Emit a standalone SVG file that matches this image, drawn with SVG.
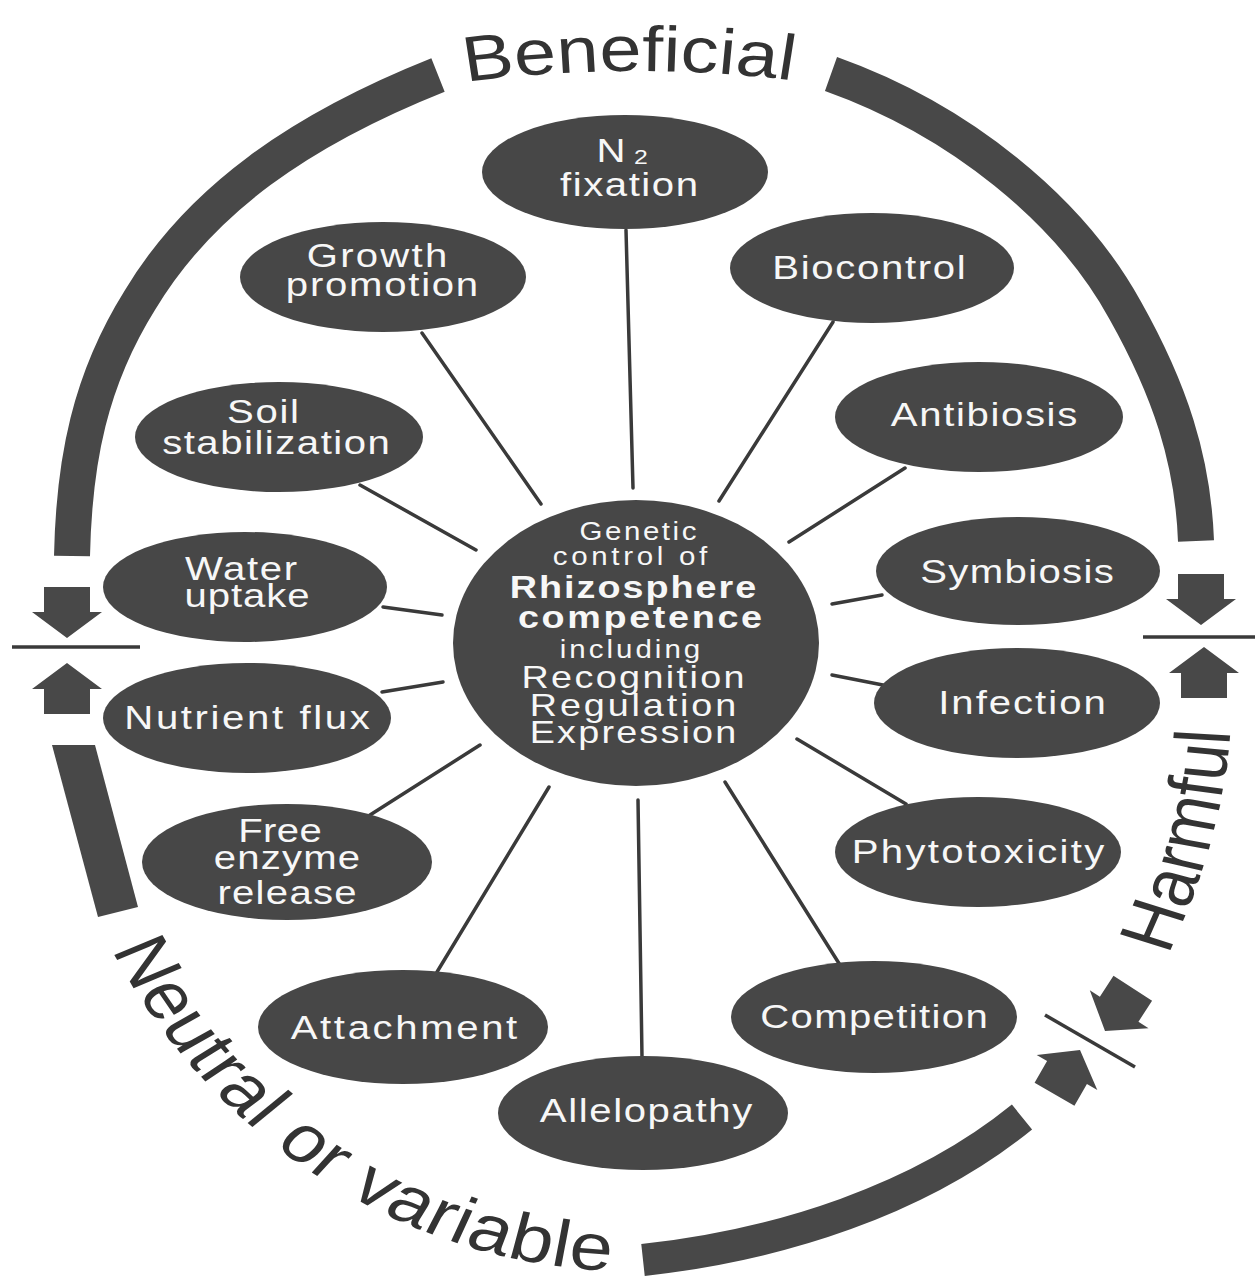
<svg xmlns="http://www.w3.org/2000/svg" width="1255" height="1281" viewBox="0 0 1255 1281">
<style>
.node{fill:#474747}
.lbl{font-family:"Liberation Sans",Arial,Helvetica,sans-serif;font-size:34px;fill:#f7f7f7;text-anchor:middle}
.sm{font-size:25px}
.md{font-size:32px}
.bd{font-size:32px;font-weight:bold}
.conn line{stroke:#3a3a3a;stroke-width:3.5;stroke-linecap:round}
.band{fill:none;stroke:#484848;stroke-width:36}
.sep{stroke:#3a3a3a;stroke-width:3.5}
.arrow{fill:#484848}
.big{font-family:"Liberation Sans",Arial,Helvetica,sans-serif;font-size:64px;fill:#333333}
.nv{font-size:66px;letter-spacing:1px}
</style>
<defs>
<path id="arr" d="M0 0 L-35 -26 L-23 -26 L-23 -51 L23 -51 L23 -26 L35 -26 Z"/>
</defs>
<rect width="1255" height="1281" fill="#ffffff"/>

<g id="frame">
<path class="band" d="M 72 556 C 74 460 90 380 140 300 C 200 200 300 130 438 75"/>
<path class="band" d="M 831 74 C 960 120 1070 210 1125 310 C 1170 390 1193 460 1196 541"/>
<path class="band" style="stroke-width:32" d="M 643 1260 C 780 1245 920 1200 1022 1117"/>
<polygon fill="#484848" points="52,745 95,745 138,907 98,917"/>
<line class="sep" x1="12" y1="647" x2="140" y2="647"/>
<line class="sep" x1="1143" y1="637" x2="1255" y2="637"/>
<line class="sep" x1="1045" y1="1015" x2="1135" y2="1067"/>
<use href="#arr" class="arrow" transform="translate(67 638)"/>
<use href="#arr" class="arrow" transform="translate(67 663) rotate(180)"/>
<use href="#arr" class="arrow" transform="translate(1201 625)"/>
<use href="#arr" class="arrow" transform="translate(1204 647) rotate(180)"/>
<use href="#arr" class="arrow" transform="translate(1105 1031) rotate(33)"/>
<use href="#arr" class="arrow" transform="translate(1080 1050) rotate(210)"/>
</g>

<g id="category-labels" transform="scale(1.18 1)">
<path id="pBen" d="M 394.9 82 Q 539 60 683.1 82" fill="none"/>
<path id="pHarm" d="M 989.8 955 Q 1035.6 840 1042.4 735" fill="none"/>
<path id="pNeut" d="M 94.9 950 A 506.8 621 0 0 0 518.6 1271" fill="none"/>
<text class="big"><textPath href="#pBen">Beneficial</textPath></text>
<text class="big" style="font-size:66px"><textPath href="#pHarm">Harmful</textPath></text>
<text class="big nv"><textPath href="#pNeut">Neutral</textPath></text>
<text class="big nv"><textPath href="#pNeut" startOffset="240">or</textPath></text>
<text class="big nv"><textPath href="#pNeut" startOffset="320">variable</textPath></text>
</g>

<g id="connectors" class="conn">
<line x1="626" y1="230" x2="633" y2="488"/>
<line x1="422" y1="333" x2="541" y2="504"/>
<line x1="833" y1="322" x2="719" y2="501"/>
<line x1="360" y1="485" x2="476" y2="550"/>
<line x1="905" y1="468" x2="789" y2="542"/>
<line x1="383" y1="607" x2="442" y2="615"/>
<line x1="882" y1="595" x2="832" y2="604"/>
<line x1="382" y1="692" x2="443" y2="682"/>
<line x1="832" y1="675" x2="888" y2="686"/>
<line x1="370" y1="815" x2="480" y2="745"/>
<line x1="906" y1="804" x2="797" y2="739"/>
<line x1="437" y1="972" x2="549" y2="787"/>
<line x1="840" y1="965" x2="725" y2="782"/>
<line x1="642" y1="1057" x2="638" y2="800"/>
</g>

<g id="center">
<ellipse class="node" cx="636" cy="643" rx="183" ry="143"/>
<text class="lbl sm" transform="translate(638 540) scale(1.18 1)" textLength="99">Genetic</text>
<text class="lbl sm" transform="translate(630 565) scale(1.18 1)" textLength="131">control of</text>
<text class="lbl bd" transform="translate(633 598) scale(1.18 1)" textLength="209">Rhizosphere</text>
<text class="lbl bd" transform="translate(640 628) scale(1.18 1)" textLength="207">competence</text>
<text class="lbl sm" transform="translate(630 658) scale(1.18 1)" textLength="119">including</text>
<text class="lbl md" transform="translate(633 688) scale(1.18 1)" textLength="189">Recognition</text>
<text class="lbl md" transform="translate(633 716) scale(1.18 1)" textLength="175">Regulation</text>
<text class="lbl md" transform="translate(633 743) scale(1.18 1)" textLength="175">Expression</text>
</g>

<g id="n2-fixation">
<ellipse class="node" cx="625" cy="172" rx="143" ry="57"/>
<text class="lbl" transform="translate(611 162) scale(1.18 1)">N</text>
<text class="lbl" style="font-size:21px" transform="translate(641 164) scale(1.18 1)">2</text>
<text class="lbl" transform="translate(629 196) scale(1.18 1)" textLength="117">fixation</text>
</g>
<g id="growth-promotion">
<ellipse class="node" cx="383" cy="277" rx="143" ry="55"/>
<text class="lbl" transform="translate(377 267) scale(1.18 1)" textLength="119">Growth</text>
<text class="lbl" transform="translate(382 296) scale(1.18 1)" textLength="163">promotion</text>
</g>
<g id="biocontrol">
<ellipse class="node" cx="872" cy="268" rx="142" ry="55"/>
<text class="lbl" transform="translate(869 279) scale(1.18 1)" textLength="164">Biocontrol</text>
</g>
<g id="soil-stabilization">
<ellipse class="node" cx="279" cy="437" rx="144" ry="55"/>
<text class="lbl" transform="translate(263 423) scale(1.18 1)" textLength="61">Soil</text>
<text class="lbl" transform="translate(276 454) scale(1.18 1)" textLength="193">stabilization</text>
</g>
<g id="antibiosis">
<ellipse class="node" cx="979" cy="417" rx="144" ry="55"/>
<text class="lbl" transform="translate(984 426) scale(1.18 1)" textLength="158">Antibiosis</text>
</g>
<g id="water-uptake">
<ellipse class="node" cx="245" cy="587" rx="142" ry="55"/>
<text class="lbl" transform="translate(241 580) scale(1.18 1)" textLength="95">Water</text>
<text class="lbl" transform="translate(247 607) scale(1.18 1)" textLength="106">uptake</text>
</g>
<g id="symbiosis">
<ellipse class="node" cx="1018" cy="571" rx="142" ry="54"/>
<text class="lbl" transform="translate(1017 583) scale(1.18 1)" textLength="164">Symbiosis</text>
</g>
<g id="nutrient-flux">
<ellipse class="node" cx="247" cy="718" rx="144" ry="55"/>
<text class="lbl" transform="translate(247 729) scale(1.18 1)" textLength="208">Nutrient flux</text>
</g>
<g id="infection">
<ellipse class="node" cx="1017" cy="703" rx="143" ry="55"/>
<text class="lbl" transform="translate(1022 714) scale(1.18 1)" textLength="142">Infection</text>
</g>
<g id="free-enzyme-release">
<ellipse class="node" cx="287" cy="862" rx="145" ry="58"/>
<text class="lbl" transform="translate(280 842) scale(1.18 1)" textLength="71">Free</text>
<text class="lbl" transform="translate(287 869) scale(1.18 1)" textLength="124">enzyme</text>
<text class="lbl" transform="translate(287 904) scale(1.18 1)" textLength="118">release</text>
</g>
<g id="phytotoxicity">
<ellipse class="node" cx="978" cy="852" rx="143" ry="55"/>
<text class="lbl" transform="translate(978 863) scale(1.18 1)" textLength="214">Phytotoxicity</text>
</g>
<g id="attachment">
<ellipse class="node" cx="403" cy="1027" rx="145" ry="57"/>
<text class="lbl" transform="translate(404 1039) scale(1.18 1)" textLength="192">Attachment</text>
</g>
<g id="competition">
<ellipse class="node" cx="874" cy="1017" rx="143" ry="56"/>
<text class="lbl" transform="translate(874 1028) scale(1.18 1)" textLength="193">Competition</text>
</g>
<g id="allelopathy">
<ellipse class="node" cx="643" cy="1113" rx="145" ry="57"/>
<text class="lbl" transform="translate(646 1122) scale(1.18 1)" textLength="180">Allelopathy</text>
</g>
</svg>
